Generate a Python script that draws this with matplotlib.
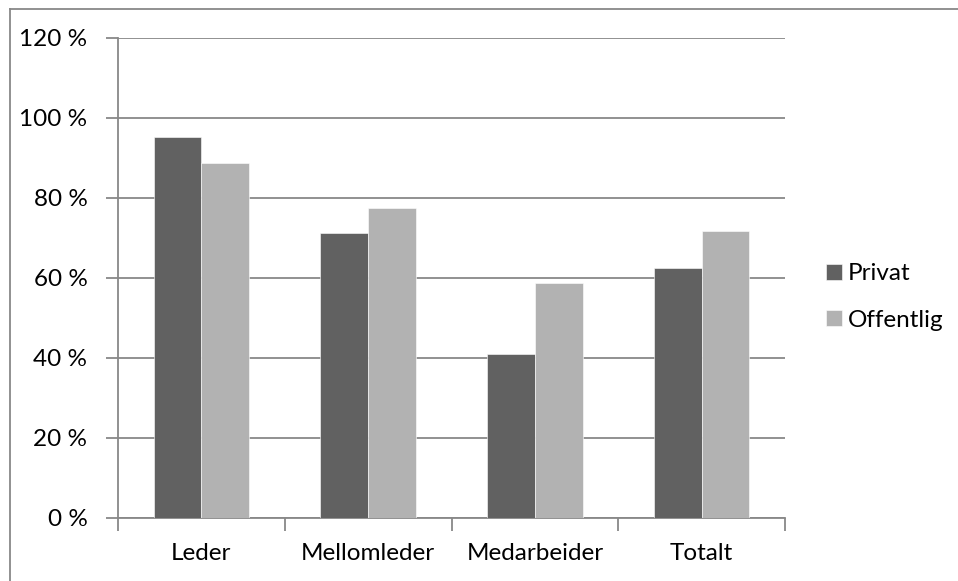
import matplotlib
matplotlib.use("Agg")
import matplotlib.pyplot as plt
from matplotlib.lines import Line2D
import numpy as np

categories = ["Leder", "Mellomleder", "Medarbeider", "Totalt"]
privat = [95.3, 71.3, 41.0, 62.6]
offentlig = [88.7, 77.5, 58.7, 71.7]
series_names = ["Privat", "Offentlig"]
y_ticks = [0, 20, 40, 60, 80, 100, 120]
y_tick_labels = ["0 %", "20 %", "40 %", "60 %", "80 %", "100 %", "120 %"]

plt.rcParams["font.family"] = ["Lato", "DejaVu Sans"]
FS = 17.5
GRID = "#888888"
DARK = "#616161"
LIGHT = "#b2b2b2"

W, H = 958, 581
fig = plt.figure(figsize=(W / 100, H / 100), dpi=100)
ax = fig.add_axes([118 / W, 1 - 518 / H, (785 - 118) / W, (518 - 38) / H])

x = np.arange(len(categories))
bw = 1 / 3.5
ax.bar(x - bw / 2, privat, bw, color=DARK, edgecolor="#ffffff", linewidth=0.4,
       label=series_names[0], zorder=3)
ax.bar(x + bw / 2, offentlig, bw, color=LIGHT, edgecolor="#ffffff", linewidth=0.4,
       label=series_names[1], zorder=3)

ax.set_xlim(-0.5, len(categories) - 0.5)
ax.set_ylim(0, 120)
ax.set_yticks(y_ticks)
ax.set_yticklabels(y_tick_labels, fontsize=FS)
ax.yaxis.grid(True, color=GRID, linewidth=1.3, zorder=0)
ax.set_axisbelow(True)

# category labels centred, tick marks on the boundaries
ax.set_xticks(x)
ax.set_xticklabels(categories, fontsize=FS)
ax.tick_params(axis="x", which="major", length=0, pad=18)
ax.set_xticks(np.arange(-0.5, len(categories) + 0.5, 1), minor=True)
ax.tick_params(axis="x", which="minor", length=9, width=1.3, color=GRID, direction="out")
ax.tick_params(axis="y", length=9, width=1.3, color=GRID, direction="out", pad=13)

for s in ["top", "right"]:
    ax.spines[s].set_visible(False)
for s in ["left", "bottom"]:
    ax.spines[s].set_color(GRID)
    ax.spines[s].set_linewidth(1.3)

leg = ax.legend(loc="center left", bbox_to_anchor=(826 / W, 1 - 297 / H),
                bbox_transform=fig.transFigure, frameon=False, fontsize=FS,
                handlelength=0.65, handleheight=0.65, handletextpad=0.25,
                labelspacing=1.05, borderaxespad=0, borderpad=0)

# outer chart border (left and top edges)
fig.add_artist(Line2D([10 / W, 10 / W], [0, 1 - 9 / H], transform=fig.transFigure,
                      color=GRID, linewidth=1.3))
fig.add_artist(Line2D([10 / W, 1], [1 - 9 / H, 1 - 9 / H], transform=fig.transFigure,
                      color=GRID, linewidth=1.3))

fig.savefig("out.png", dpi=100, facecolor="white")
